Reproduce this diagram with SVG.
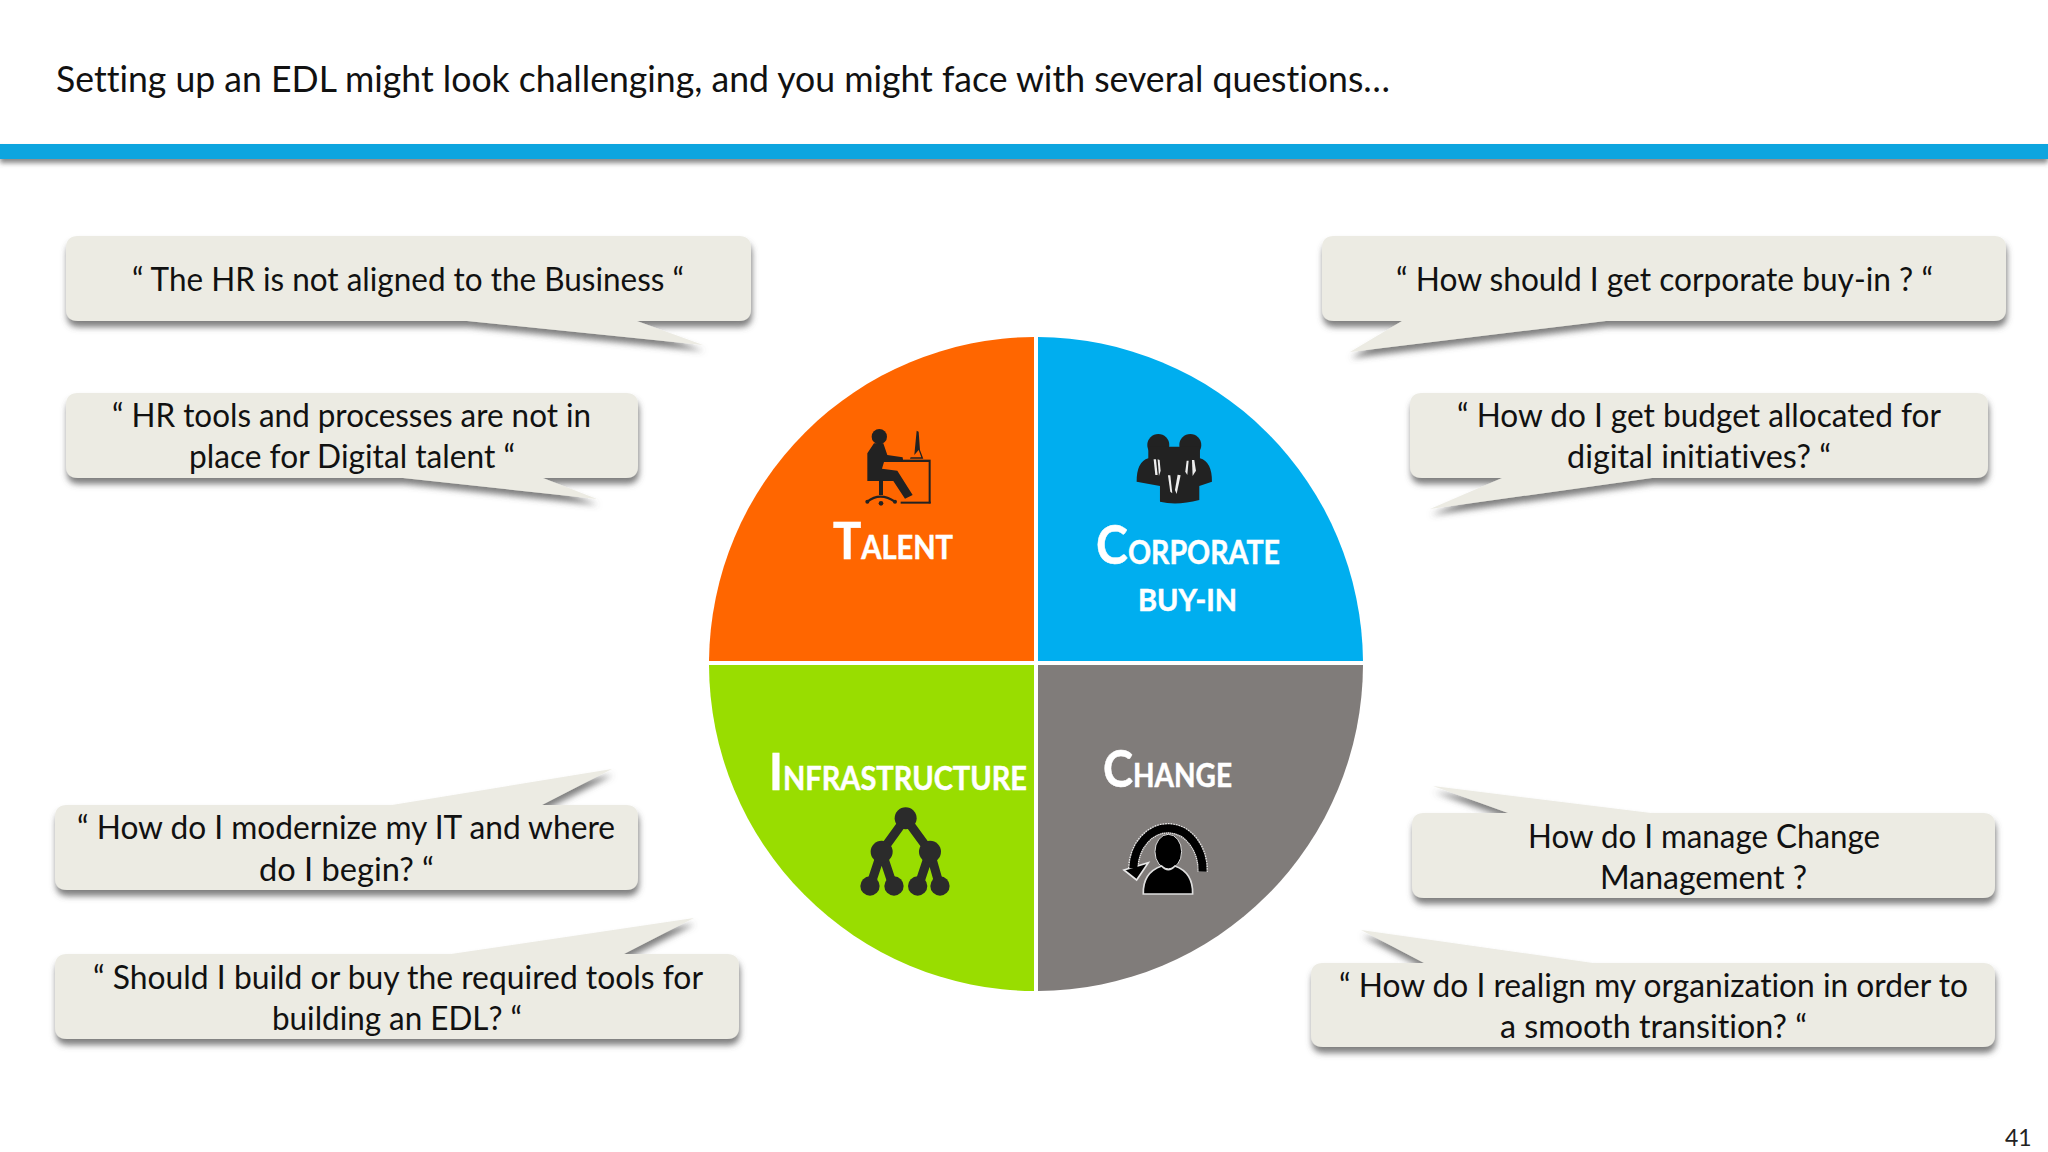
<svg xmlns="http://www.w3.org/2000/svg" width="2048" height="1152" viewBox="0 0 2048 1152">
<style>
text{font-family:Lato,"Open Sans",sans-serif;font-variant-ligatures:none}
.b{fill:#ecebe3;filter:url(#sh)}
.t{font-size:32px;fill:#111}
.h{fill:#fff;font-weight:700;stroke:#fff;stroke-width:.5px}
.k{fill:#222}
</style>
<defs>
<filter id="sh" x="-5%" y="-20%" width="110%" height="150%"><feDropShadow dx="1" dy="6" stdDeviation="3" flood-color="#555" flood-opacity=".75"/></filter>
<filter id="barsh" x="0" y="-50%" width="100%" height="250%"><feDropShadow dx="0" dy="4" stdDeviation="2.5" flood-color="#555" flood-opacity=".7"/></filter>
</defs>
<rect width="2048" height="1152" fill="#fff"/>
<text x="56" y="91.500" font-size="36" fill="#111" textLength="1334" lengthAdjust="spacingAndGlyphs">Setting up an EDL might look challenging, and you might face with several questions…</text>
<rect id="bar" x="0" y="144" width="2048" height="15" fill="#0ea5df" filter="url(#barsh)"/>
<g id="connectors"/>

<g id="bubble1"><path class="b" d="M78,236H739Q751,236 751,248V309Q751,321 739,321H637L703,345L467,321H78Q66,321 66,309V248Q66,236 78,236Z"/>
<text class="t" x="132" y="291" textLength="552" lengthAdjust="spacingAndGlyphs">“ The HR is not aligned to the Business “</text></g>
<g id="bubble2"><path class="b" d="M78,393H626Q638,393 638,405V466Q638,478 626,478H543L597,499L403,478H78Q66,478 66,466V405Q66,393 78,393Z"/>
<text class="t" x="112" y="427" textLength="479" lengthAdjust="spacingAndGlyphs">“ HR tools and processes are not in</text>
<text class="t" x="189" y="468" textLength="326" lengthAdjust="spacingAndGlyphs">place for Digital talent “</text></g>
<g id="bubble3"><path class="b" d="M1334,236H1994Q2006,236 2006,248V309Q2006,321 1994,321H1606L1350,352L1402,321H1334Q1322,321 1322,309V248Q1322,236 1334,236Z"/>
<text class="t" x="1396" y="291" textLength="537" lengthAdjust="spacingAndGlyphs">“ How should I get corporate buy-in ? “</text></g>
<g id="bubble4"><path class="b" d="M1422,393H1976Q1988,393 1988,405V466Q1988,478 1976,478H1652L1430,509L1502,478H1422Q1410,478 1410,466V405Q1410,393 1422,393Z"/>
<text class="t" x="1457" y="427" textLength="484" lengthAdjust="spacingAndGlyphs">“ How do I get budget allocated for</text>
<text class="t" x="1567" y="468" textLength="264" lengthAdjust="spacingAndGlyphs">digital initiatives? “</text></g>
<g id="bubble5"><path class="b" d="M67,805H392L612,769L542,805H626Q638,805 638,817V878Q638,890 626,890H67Q55,890 55,878V817Q55,805 67,805Z"/>
<text class="t" x="77" y="839" textLength="538" lengthAdjust="spacingAndGlyphs">“ How do I modernize my IT and where</text>
<text class="t" x="259" y="881" textLength="175" lengthAdjust="spacingAndGlyphs">do I begin? “</text></g>
<g id="bubble6"><path class="b" d="M67,954H451L694,918L624,954H727Q739,954 739,966V1027Q739,1039 727,1039H67Q55,1039 55,1027V966Q55,954 67,954Z"/>
<text class="t" x="93" y="989" textLength="610" lengthAdjust="spacingAndGlyphs">“ Should I build or buy the required tools for</text>
<text class="t" x="272" y="1030" textLength="250" lengthAdjust="spacingAndGlyphs">building an EDL? “</text></g>
<g id="bubble7"><path class="b" d="M1424,813H1508L1433,786L1651,813H1983Q1995,813 1995,825V886Q1995,898 1983,898H1424Q1412,898 1412,886V825Q1412,813 1424,813Z"/>
<text class="t" x="1528" y="847.500" textLength="352" lengthAdjust="spacingAndGlyphs">How do I manage Change</text>
<text class="t" x="1600" y="888.500" textLength="207" lengthAdjust="spacingAndGlyphs">Management ?</text></g>
<g id="bubble8"><path class="b" d="M1323,963H1424L1361,930L1593,963H1983Q1995,963 1995,975V1035Q1995,1047 1983,1047H1323Q1311,1047 1311,1035V975Q1311,963 1323,963Z"/>
<text class="t" x="1339" y="997" textLength="629" lengthAdjust="spacingAndGlyphs">“ How do I realign my organization in order to</text>
<text class="t" x="1500" y="1038" textLength="307" lengthAdjust="spacingAndGlyphs">a smooth transition? “</text></g>

<g id="talent">
<path d="M1034,661V337A327,327 0 0 0 709,661Z" fill="#ff6600"/>
<g transform="translate(780,400) scale(.3333)">
<circle class="k" cx="298" cy="110" r="23"/>
<path class="k" d="M262,160L282,130H310L322,165L368,172L370,186L312,186L306,206L352,212L398,285L375,296L340,243H262Z"/>
<rect class="k" x="297" y="243" width="12" height="42"/>
<path d="M262,305Q300,275 345,305" fill="none" stroke="#222" stroke-width="7"/>
<circle class="k" cx="303" cy="310" r="7"/><circle class="k" cx="262" cy="305" r="6"/><circle class="k" cx="345" cy="305" r="6"/>
<rect class="k" x="365" y="179" width="87" height="7"/><rect class="k" x="446" y="186" width="6" height="124"/><rect class="k" x="362" y="305" width="90" height="6"/>
<path class="k" d="M403,165L410,92L416,95L420,150L430,176H390L392,172H424L416,150Z"/>
</g>
<text class="h" x="833" y="559" font-size="32" textLength="120" lengthAdjust="spacingAndGlyphs"><tspan font-size="52">T</tspan>ALENT</text>
</g>

<g id="corporate">
<path d="M1038,661V337A327,327 0 0 1 1363,661Z" fill="#00aeef"/>
<g transform="translate(780,400) scale(.3333)">
<circle class="k" cx="1135" cy="135" r="33"/><circle class="k" cx="1231" cy="135" r="33"/>
<path class="k" d="M1105,140H1260V175Q1296,185 1296,245L1258,258V300Q1190,318 1140,305V258L1070,245Q1070,185 1105,175Z"/>
<g fill="#eee"><path d="M1121,178L1128,178L1133,225L1126,225Z"/><path d="M1133,178L1139,180L1142,212L1137,228Z"/><path d="M1220,182L1226,182L1222,225L1216,215Z"/><path d="M1236,180L1243,180L1248,212L1238,228Z"/><path d="M1164,226L1171,226L1177,280L1171,275Z"/><path d="M1193,224L1202,226L1190,282L1185,270Z"/></g>
</g>
<text class="h" x="1096" y="564" font-size="32" textLength="184" lengthAdjust="spacingAndGlyphs"><tspan font-size="54">C</tspan>ORPORATE</text>
<text class="h" x="1138" y="610.500" font-size="30" textLength="99" lengthAdjust="spacingAndGlyphs">BUY-IN</text>
</g>

<g id="infrastructure">
<path d="M1034,665V991A327,327 0 0 1 709,665Z" fill="#99dd00"/>
<g transform="translate(760,740) scale(.3333)">
<g stroke="#2b2b2b" stroke-width="27" fill="none"><path d="M437,235L365,335L330,440M365,335L400,440M437,235L510,335L475,440M510,335L540,440"/></g>
<g fill="#2b2b2b"><circle cx="437" cy="235" r="33"/><circle cx="365" cy="335" r="33"/><circle cx="510" cy="335" r="33"/><circle cx="330" cy="438" r="29"/><circle cx="402" cy="438" r="29"/><circle cx="473" cy="438" r="29"/><circle cx="540" cy="438" r="29"/></g>
</g>
<text class="h" x="769" y="790" font-size="32" textLength="258" lengthAdjust="spacingAndGlyphs"><tspan font-size="52">I</tspan>NFRASTRUCTURE</text>
</g>

<g id="change">
<path d="M1038,665V991A327,327 0 0 0 1363,665Z" fill="#807c7a"/>
<g transform="translate(760,740) scale(.3333)">
<path d="M1120,385A104,125 0 1 1 1328,395" fill="none" stroke="#e8e8e8" stroke-width="32" stroke-dasharray="4 3"/>
<path d="M1092,390L1165,368L1130,420Z" fill="#000" stroke="#e8e8e8" stroke-width="5"/>
<path d="M1120,385A104,125 0 1 1 1328,395" fill="none" stroke="#000" stroke-width="24"/>
<ellipse cx="1225" cy="335" rx="40" ry="52" fill="#000" stroke="#ddd" stroke-width="3"/>
<path d="M1150,462Q1148,398 1205,378Q1225,400 1245,378Q1300,398 1298,462Z" fill="#000" stroke="#ddd" stroke-width="5"/>
</g>
<text class="h" x="1103" y="787" font-size="32" textLength="129" lengthAdjust="spacingAndGlyphs"><tspan font-size="52">C</tspan>HANGE</text>
</g>

<text x="2005" y="1146" font-size="23" fill="#222">41</text>
</svg>
